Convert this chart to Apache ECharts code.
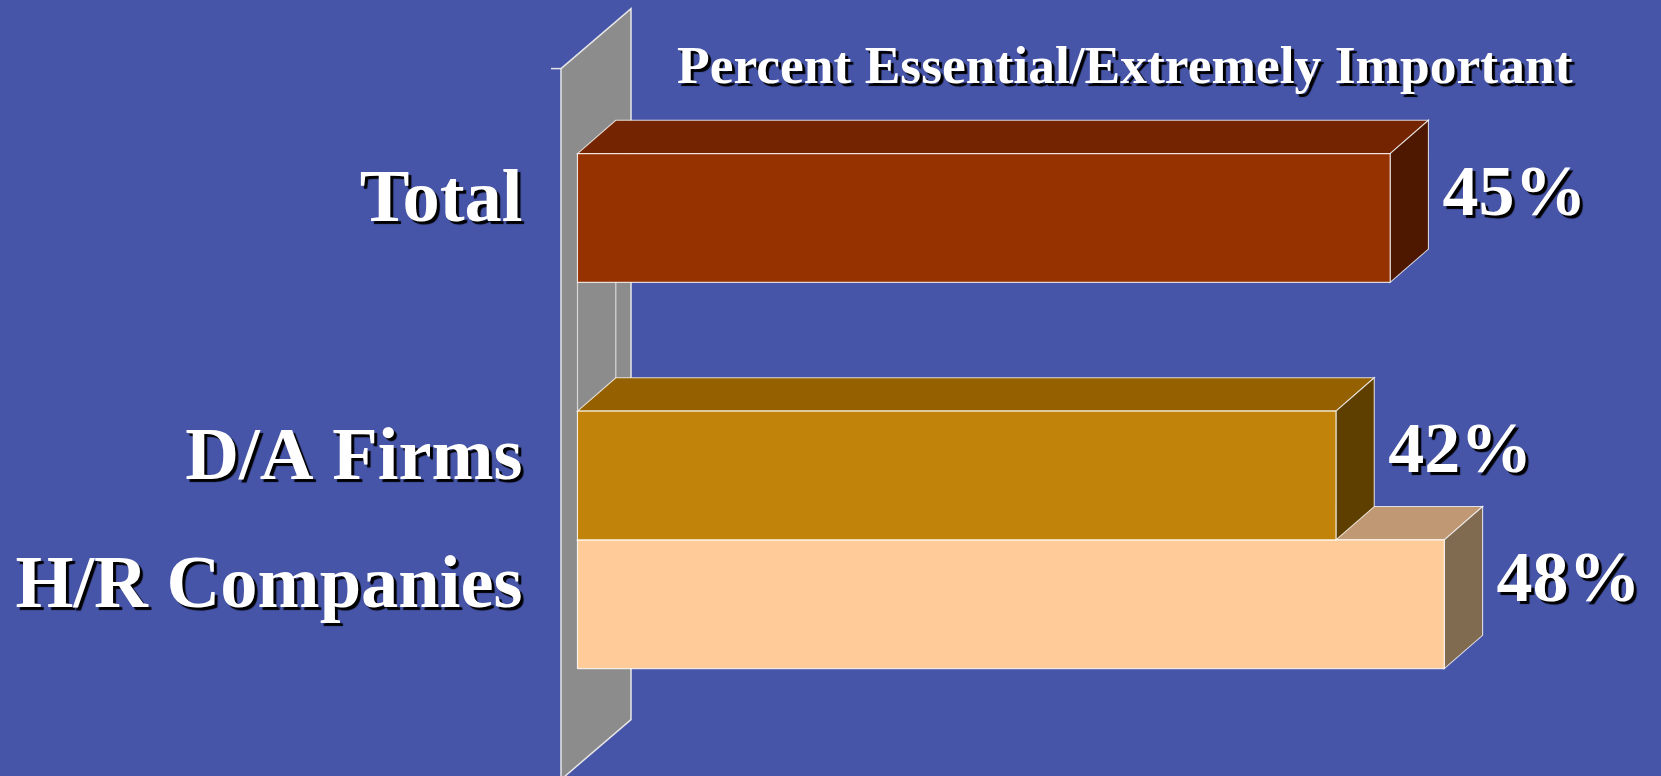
<!DOCTYPE html>
<html>
<head>
<meta charset="utf-8">
<title>Percent Essential/Extremely Important</title>
<script src="https://cdn.jsdelivr.net/npm/echarts@6/dist/echarts.min.js"></script>
<style>
  html, body { margin: 0; padding: 0; background: #4655A8; }
  #chart { width: 1661px; height: 776px; }
</style>
</head>
<body>
<div id="chart"></div>
<script>
// Survey rows (the empty row is a spacer between Total and the two segments)
const categories = ['Total', '', 'D/A Firms', 'H/R Companies'];
const values = [45, null, 42, 48];
const chartTitle = 'Percent Essential/Extremely Important';

// Face shades for each row: front, top, side
const frontColors = ['#963200', null, '#C1830A', '#FFCC99'];
const topColors = ['#742400', null, '#956100', '#C09874'];
const sideColors = ['#4E1800', null, '#5F3F00', '#806A50'];

const FONT = "'Liberation Serif', 'Times New Roman', serif";
const DEPTH_X = 38.3;   // 3D extrusion of each bar
const DEPTH_Y = -33.3;
const EDGE = 'rgba(255,255,255,0.78)';
const shadow = { textShadowColor: '#000', textShadowOffsetX: 3, textShadowOffsetY: 3, textShadowBlur: 1 };

const chart = echarts.init(document.getElementById('chart'), null, { renderer: 'canvas' });

// Gray back wall the bars stand on, at value 0
function renderWall(params, api) {
  const cs = params.coordSys;
  const x0 = api.coord([0, 0])[0];
  const top = cs.y, bottom = cs.y + cs.height;
  const fx = x0 - 16.5, bx = x0 + 53.5;
  const children = [{
    type: 'polygon',
    shape: { points: [[fx, top - 85], [bx, top - 145], [bx, bottom + 51], [fx, bottom + 111]] },
    style: { fill: '#8C8C8C', stroke: '#E6E6E6', lineWidth: 1.5 },
    z2: 1
  }, {
    type: 'line',
    shape: { x1: fx - 10, y1: top - 85, x2: fx, y2: top - 85 },
    style: { stroke: '#E6E6E6', lineWidth: 1.5 },
    z2: 2
  }, {
    type: 'line',
    shape: { x1: x0, y1: top, x2: x0, y2: bottom },
    style: { stroke: '#D8D8D8', lineWidth: 1.2 },
    z2: 2
  }, {
    type: 'line',
    shape: { x1: x0 + DEPTH_X, y1: top + DEPTH_Y, x2: x0 + DEPTH_X, y2: bottom + DEPTH_Y },
    style: { stroke: '#D8D8D8', lineWidth: 1.2 },
    z2: 2
  }];
  return { type: 'group', children: children };
}

function renderBar(params, api) {
  const idx = api.value(1);
  const val = api.value(0);
  const start = api.coord([0, idx]);
  const end = api.coord([val, idx]);
  const h = api.size([0, 1])[1];
  const x0 = start[0], x1 = end[0];
  const yT = end[1] - h / 2, yB = end[1] + h / 2;
  const base = (categories.length - idx) * 10;
  return {
    type: 'group',
    children: [{
      type: 'polygon',
      shape: { points: [[x0, yT], [x1, yT], [x1 + DEPTH_X, yT + DEPTH_Y], [x0 + DEPTH_X, yT + DEPTH_Y]] },
      style: { fill: topColors[idx], stroke: EDGE, lineWidth: 1.1 },
      z2: base + 1
    }, {
      type: 'polygon',
      shape: { points: [[x1, yT], [x1 + DEPTH_X, yT + DEPTH_Y], [x1 + DEPTH_X, yB + DEPTH_Y], [x1, yB]] },
      style: { fill: sideColors[idx], stroke: EDGE, lineWidth: 1.1 },
      z2: base + 2
    }, {
      type: 'rect',
      shape: { x: x0, y: yT, width: x1 - x0, height: h },
      style: { fill: frontColors[idx], stroke: EDGE, lineWidth: 1.1 },
      z2: base + 3
    }, {
      type: 'text',
      style: Object.assign({
        x: x1 + DEPTH_X + 14,
        y: end[1] - 22,
        text: val + '%',
        fill: '#FFFFFF',
        font: 'bold 72px ' + FONT,
        align: 'left',
        verticalAlign: 'middle'
      }, shadow),
      z2: 200
    }]
  };
}

const barData = values
  .map((v, i) => ({ value: [v, i] }))
  .filter(d => d.value[0] != null);

chart.setOption({
  backgroundColor: '#4655A8',
  animation: false,
  title: {
    text: chartTitle,
    left: 672,
    top: 37,
    textStyle: Object.assign({
      color: '#FFFFFF',
      fontFamily: FONT,
      fontWeight: 'bold',
      fontSize: 53.5
    }, shadow)
  },
  grid: { left: 577.5, right: 0, top: 153.6, bottom: 107.4, containLabel: false },
  xAxis: {
    type: 'value',
    min: 0,
    max: 60,
    show: false
  },
  yAxis: {
    type: 'category',
    data: categories,
    inverse: true,
    axisLine: { show: false },
    axisTick: { show: false },
    splitLine: { show: false },
    axisLabel: {
      margin: 55,
      // the category name sits level with the middle of the extruded bar
      formatter: v => v ? '{n|' + v + '}\n{gap| }' : '',
      rich: {
        n: Object.assign({
          color: '#FFFFFF',
          fontFamily: FONT,
          fontWeight: 'bold',
          fontSize: 74.5,
          lineHeight: 80,
          align: 'right'
        }, shadow),
        gap: { fontSize: 10, lineHeight: 32, height: 32 }
      }
    }
  },
  series: [{
    type: 'custom',
    name: 'wall',
    renderItem: renderWall,
    data: [[0, 0]],
    encode: { x: 0, y: 1 },
    z: 1,
    silent: true
  }, {
    type: 'custom',
    name: 'Percent',
    renderItem: renderBar,
    data: barData,
    encode: { x: 0, y: 1 },
    z: 2
  }]
});
</script>
</body>
</html>
